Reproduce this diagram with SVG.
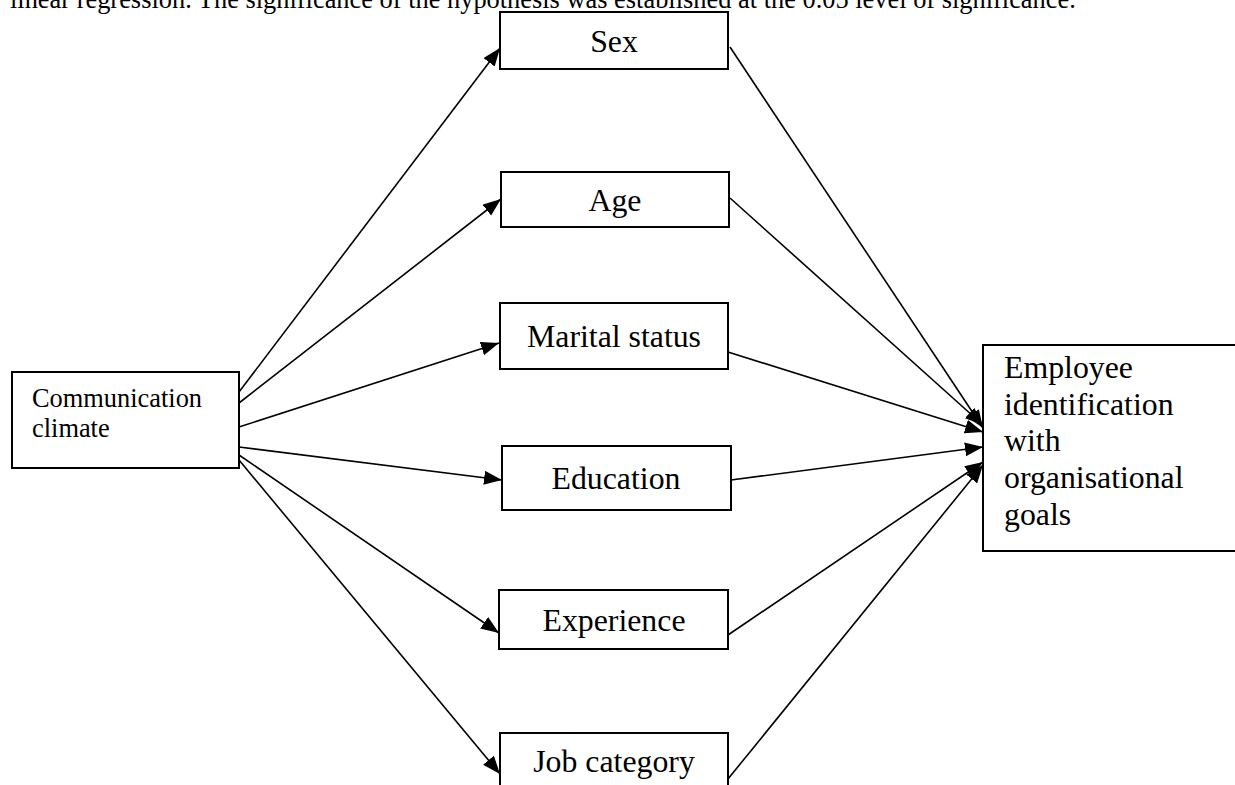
<svg xmlns="http://www.w3.org/2000/svg" width="1235" height="785" viewBox="0 0 1235 785">
<defs>
<style>
.box{fill:#fff;stroke:#000;stroke-width:2}
.lbl{font-family:"Liberation Serif","Times New Roman",serif;font-size:31.8px;fill:#000}
.sm{font-family:"Liberation Serif","Times New Roman",serif;font-size:26.4px;fill:#000}
.edge{stroke:#000;stroke-width:1.6;fill:none;marker-end:url(#ah)}
</style>
<marker id="ah" markerUnits="userSpaceOnUse" markerWidth="19" markerHeight="15" refX="18" refY="7" orient="auto">
<path d="M0,0 L18,7 L0,14 z" fill="#000"/>
</marker>
</defs>
<rect width="1235" height="785" fill="#fff"/>
<text class="sm" x="10" y="8">linear regression. The significance of the hypothesis was established at the 0.05 level of significance.</text>
<g id="connectors">
<line class="edge" x1="239" y1="392" x2="500" y2="48"/>
<line class="edge" x1="239" y1="403" x2="501" y2="199"/>
<line class="edge" x1="239" y1="427" x2="499" y2="343"/>
<line class="edge" x1="239" y1="447" x2="502" y2="480"/>
<line class="edge" x1="239" y1="455" x2="499" y2="633"/>
<line class="edge" x1="239" y1="460" x2="500" y2="774"/>
<line class="edge" x1="730" y1="47" x2="983" y2="428"/>
<line class="edge" x1="730" y1="198" x2="983" y2="425"/>
<line class="edge" x1="728" y1="352" x2="983" y2="432"/>
<line class="edge" x1="731" y1="480" x2="983" y2="447"/>
<line class="edge" x1="728" y1="635" x2="983" y2="462"/>
<line class="edge" x1="728" y1="779" x2="983" y2="465"/>
</g>
<g id="node-comm">
<rect class="box" x="12" y="372" width="227" height="96"/>
<text class="sm" x="32" y="407">Communication</text>
<text class="sm" x="32" y="437">climate</text>
</g>
<g id="node-sex">
<rect class="box" x="500" y="12" width="228" height="57"/>
<text class="lbl" x="614" y="52" text-anchor="middle">Sex</text>
</g>
<g id="node-age">
<rect class="box" x="501" y="172" width="228" height="55"/>
<text class="lbl" x="615" y="211" text-anchor="middle">Age</text>
</g>
<g id="node-marital">
<rect class="box" x="500" y="303" width="228" height="66"/>
<text class="lbl" x="614" y="347" text-anchor="middle">Marital status</text>
</g>
<g id="node-education">
<rect class="box" x="502" y="446" width="229" height="64"/>
<text class="lbl" x="616" y="489" text-anchor="middle">Education</text>
</g>
<g id="node-experience">
<rect class="box" x="499" y="590" width="229" height="59"/>
<text class="lbl" x="614" y="631" text-anchor="middle">Experience</text>
</g>
<g id="node-job">
<rect class="box" x="500" y="733" width="228" height="60"/>
<text class="lbl" x="614" y="772" text-anchor="middle">Job category</text>
</g>
<g id="node-employee">
<rect class="box" x="983" y="345" width="260" height="206"/>
<text class="lbl"><tspan x="1004" y="378">Employee</tspan><tspan x="1004" y="415">identification</tspan><tspan x="1004" y="451">with</tspan><tspan x="1004" y="488">organisational</tspan><tspan x="1004" y="525">goals</tspan></text>
</g>
</svg>
